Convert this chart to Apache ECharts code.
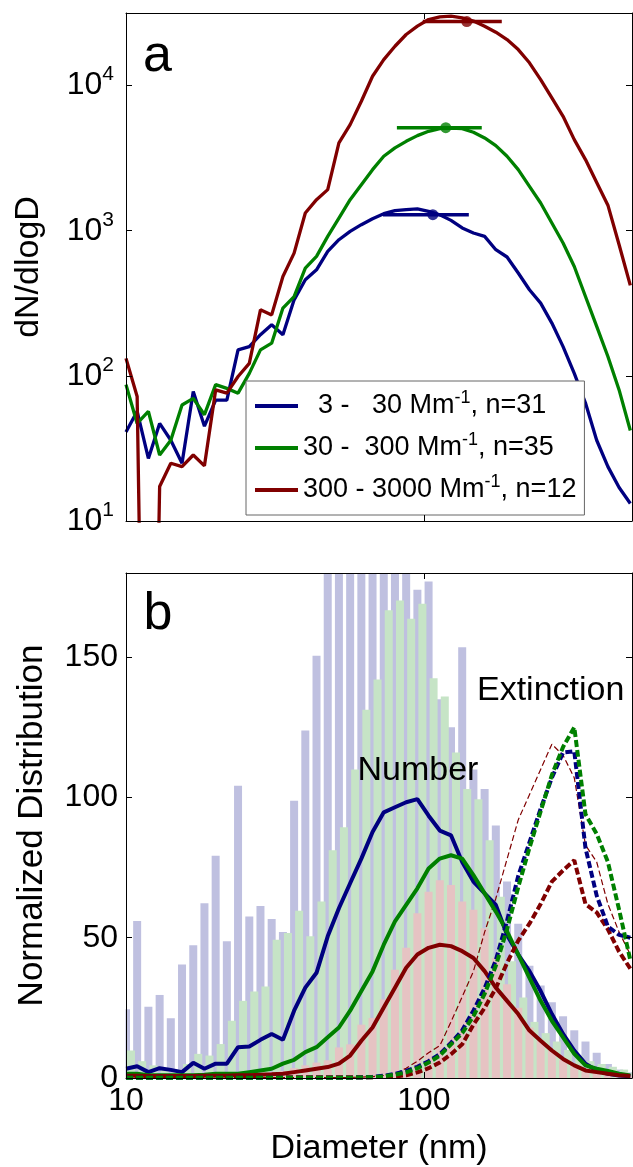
<!DOCTYPE html>
<html><head><meta charset="utf-8">
<script src="https://cdn.jsdelivr.net/npm/echarts@6/dist/echarts.min.js"></script>
<style>html,body{margin:0;padding:0;background:#fff}#c{width:633px;height:1167px}</style>
</head><body><div id="c"></div>
<script>
// Diameter bins (nm)
const diameters = [10.0,10.9,11.89,12.97,14.14,15.42,16.82,18.34,20.0,21.81,23.78,25.94,28.28,30.84,33.64,36.68,40.0,43.62,47.57,51.87,56.57,61.69,67.27,73.36,80.0,87.24,95.14,103.75,113.14,123.38,134.54,146.72,160.0,174.48,190.27,207.49,226.27,246.75,269.09,293.44,320.0,348.96,380.55,414.99,452.55,493.5];

// Panel a: dN/dlogD
const blueA = [41,57,27,47,36,25,78,45,68,68,151,159,192,225,192,334,459,538,720,867,989,1100,1210,1310,1374,1396,1412,1360,1288,1178,1045,965,914,740,659,511,392,317,231,159,104,65,36,23.7,17,13.2];
const greenA = [87,47,57,28.5,36,63,70,54,87,82,76,104,151,168,293,352,553,666,914,1223,1636,2076,2634,3258,3719,4130,4521,4840,5050,5100,5050,4766,4358,3855,3258,2634,2022,1552,1130,822,567,352,219,136,80,42];
const redA = [132,72,0.001,17.3,25,23.7,28.5,24,80,76,99,122,285,263,484,701,1325,1636,1919,4024,5379,7800,11590,15100,18660,22480,25650,28510,29770,30100,29300,27800,25650,23330,20750,17700,14350,11000,8226,6140,4244,3090,2150,1500,800,420];
// mean diameter markers with horizontal bars
const markX = [107.2,118.5,139.4];
const markY = [1290,5130,27620];
const markLo = [72.9,81.2,99.2];
const markHi = [141.6,156.5,182.7];
// legend
const legLow = ['  3','30','300'];
const legHigh = ['  30',' 300','3000'];
const legN = [31,35,12];

// Panel b: normalized distributions
const blueBars = [24.5,56,25.4,29.6,21.3,40.5,47.3,62.3,79.2,48.7,104.2,57.6,61.3,56.7,52,98.8,123.9,150.5,200,210,230,240,250,240,230,200,174,177,135,125,153.5,110,103,90,70,55,40,33,27,22,17,13,9,5,3,2];
const greenBars = [9.8,6,4.5,3,3,5,8.6,8,12.1,20.4,27.5,30.8,32.6,49.3,51.7,59.6,50.5,62.9,81.2,89.4,110,131.3,142,166.7,170.2,163.7,169,142.5,136,116,103,99.4,84.7,64.6,41.6,28.7,20,16,13,10,8,6,5,4,3,2];
const redBars = [1,0.5,0.5,0.5,0.5,0.5,0.8,0.8,1,1,1,1.5,1.5,2,2.5,3.5,4.5,5.5,6.3,10.9,12,19,21.4,28,38.6,46.4,58.7,66.4,70.5,68.8,62.9,60,53.4,42.8,33.4,25,18,13.3,9.8,6.3,4.5,3.3,2.1,1.5,1,0.8];
const blueNum = [3.3,4.2,2.1,3.5,2.9,2.1,5.4,3.3,5.1,5.1,11,11.2,13.6,15.7,13.6,24,32.2,37.5,50.5,60.5,69.4,78.2,87.7,94.7,96.5,98.3,99.4,93.5,88.2,86.5,77,70,65.8,61.7,51,44,38.1,31,22.8,15.7,9.8,5.1,2.7,1.5,0.9,0.6];
const greenNum = [1.5,1.5,1,1,1,1,1,1.2,1.5,1.5,1.5,2.1,2.7,3.3,5.1,6.5,9.2,11,14.5,18,24,31,38,47.5,55.8,61.7,67.6,74.7,78.2,79.4,78.2,72.3,65.8,59.3,52.3,44,35.7,27.5,20.4,14.5,8.6,4.5,3.3,2.5,1.5,0.9];
const redNum = [0.8,0.8,0.7,0.7,0.7,0.7,0.7,0.8,0.8,0.8,1,1,1.2,1.3,1.5,2.1,2.7,3.3,3.9,5.1,8,13.3,18,25.1,32.2,39.3,44,46.4,47.5,47,45.2,42.8,38.1,32.2,27.5,22.8,16.9,13.3,9.8,6.8,4.5,2.7,2.1,1.5,1,0.7];
const blueExt = [0.1,0.1,0.1,0.1,0.1,0.1,0.1,0.1,0.1,0.1,0.1,0.1,0.1,0.1,0.1,0.1,0.1,0.1,0.1,0.1,0.1,0.2,0.4,0.8,1.5,2.5,4,6,8.5,12.5,17,24,32,42,56,72,84,96,107,116,116.5,82,65,54,51,50];
const greenExt = [0.1,0.1,0.1,0.1,0.1,0.1,0.1,0.1,0.1,0.1,0.1,0.1,0.1,0.1,0.1,0.1,0.1,0.1,0.1,0.1,0.1,0.2,0.3,0.6,1.2,2,3.5,5.5,8,12,16,22,30,40,53,68,82,95,108,118,125,94,87,77,60,42];
const redExt = [0.3,0.3,0.3,0.3,0.3,0.3,0.3,0.3,0.3,0.3,0.3,0.3,0.3,0.3,0.3,0.3,0.3,0.3,0.3,0.3,0.3,0.3,0.3,0.4,0.5,1,2,3.5,5.5,8.5,12,19,25,32,41,49,55,62,70,74,77.6,62,59,53,45,39];
const redExtThin = [0.1,0.1,0.1,0.1,0.1,0.1,0.1,0.1,0.1,0.1,0.1,0.1,0.1,0.1,0.1,0.1,0.1,0.1,0.1,0.1,0.2,0.3,0.5,0.9,1.5,3.5,6,9,11.5,20,29,38,52,64,78,92,101,110,119,115,107,83,77,62,52,44];
// axis tick values
const xTicks = [10,100];
const yTicksB = [0,50,100,150];

const FONT = '"Liberation Sans", Arial, sans-serif';
const C_BLUE = '#000080', C_GREEN = '#008000', C_RED = '#800000';
const B_BLUE = '#bfc0e0', B_GREEN = '#c6e4c6', B_RED = '#e6c3c3';

function pts(v) { return diameters.map((d, i) => [d, v[i]]); }
const legNames = legLow.map((l, i) => l + ' - ' + legHigh[i] + ' Mm^-1, n=' + legN[i]);

const chart = echarts.init(document.getElementById('c'), null, {renderer: 'canvas'});

const tick = {show: true, inside: true, length: 6, lineStyle: {color: '#000', width: 1}};
const aline = {show: true, onZero: false, lineStyle: {color: '#000', width: 1}};
function xAx(grid, pos, labels, hidden) {
  const a = {gridIndex: grid, type: 'log', logBase: 10, min: 10, max: 500, interval: 1, position: pos, z: 10,
    axisLine: aline, axisTick: tick, splitLine: {show: false}, minorTick: {show: false},
    axisLabel: {show: false}};
  if (hidden) { a.axisLine = {show: false}; a.axisTick = {show: false}; }
  if (labels) {
    a.axisLabel = {show: true, fontSize: 32, color: '#000', fontFamily: FONT, margin: 7, showMaxLabel: false,
      formatter: v => (xTicks.indexOf(Math.round(v)) >= 0 ? String(Math.round(v)) : '')};
    a.name = 'Diameter (nm)'; a.nameLocation = 'middle'; a.nameGap = 54;
    a.nameTextStyle = {fontSize: 34, color: '#000', fontFamily: FONT};
  }
  return a;
}
const yA = {gridIndex: 0, type: 'log', logBase: 10, min: 10, max: 31622.8, interval: 1, position: 'left', z: 10,
  axisLine: aline, axisTick: tick, splitLine: {show: false}, minorTick: {show: false},
  axisLabel: {show: true, margin: 12, showMaxLabel: false, color: '#000', fontFamily: FONT,
    formatter: v => '{b|10}{s|' + Math.round(Math.log10(v)) + '}',
    rich: {b: {fontSize: 32, fontFamily: FONT, color: '#000'}, s: {fontSize: 21, fontFamily: FONT, color: '#000', padding: [0, 0, 22, 0]}}},
  name: 'dN/dlogD', nameLocation: 'middle', nameGap: 80, nameRotate: 90,
  nameTextStyle: {fontSize: 34, color: '#000', fontFamily: FONT}};
const yAr = {gridIndex: 0, type: 'log', logBase: 10, min: 10, max: 31622.8, interval: 1, position: 'right', z: 10,
  axisLine: aline, axisTick: tick, splitLine: {show: false}, minorTick: {show: false}, axisLabel: {show: false}};
const yB = {gridIndex: 1, type: 'value', min: 0, max: 180, interval: 50, position: 'left', z: 10,
  axisLine: aline, axisTick: tick, splitLine: {show: false},
  axisLabel: {show: true, margin: 8, showMaxLabel: false, fontSize: 32, color: '#000', fontFamily: FONT,
    formatter: v => (yTicksB.indexOf(v) >= 0 ? String(v) : '')},
  name: 'Normalized Distribution', nameLocation: 'middle', nameGap: 76, nameRotate: 90,
  nameTextStyle: {fontSize: 35, color: '#000', fontFamily: FONT}};
const yBr = {gridIndex: 1, type: 'value', min: 0, max: 180, interval: 50, position: 'right', z: 10,
  axisLine: aline, axisTick: tick, splitLine: {show: false}, axisLabel: {show: false}};

function lineA(name, vals, color) {
  return {name: name, type: 'line', xAxisIndex: 0, yAxisIndex: 0, data: pts(vals), symbol: 'none', showSymbol: false,
    lineStyle: {color: color, width: 3.3}, itemStyle: {color: color}, clip: true, z: 3, silent: true};
}
function markBar(i, color) {
  return {name: 'm' + i, type: 'line', xAxisIndex: 0, yAxisIndex: 0, data: [[markLo[i], markY[i]], [markHi[i], markY[i]]],
    symbol: 'none', lineStyle: {color: color, width: 3.5}, itemStyle: {color: color}, z: 4, silent: true};
}
function markDot(i, color) {
  return {name: 'd' + i, type: 'scatter', xAxisIndex: 0, yAxisIndex: 0, data: [[markX[i], markY[i]]],
    symbolSize: 11, itemStyle: {color: color}, z: 5, silent: true};
}
function barB(name, vals, color, xIdx, gap, opacity) {
  return {name: name, type: 'bar', xAxisIndex: xIdx, yAxisIndex: 2, data: pts(vals), barWidth: 8, barGap: gap,
    itemStyle: {color: color, opacity: opacity == null ? 1 : opacity}, z: 2, silent: true};
}
function lineB(name, vals, color, width, dash) {
  return {name: name, type: 'line', xAxisIndex: 2, yAxisIndex: 2, data: pts(vals), symbol: 'none', showSymbol: false,
    lineStyle: {color: color, width: width, type: dash || 'solid'}, itemStyle: {color: color}, clip: true, z: 3, silent: true};
}

const option = {
  animation: false,
  backgroundColor: '#fff',
  grid: [
    {left: 126, top: 13, width: 506, height: 508},
    {left: 126, top: 573, width: 506, height: 508}
  ],
  xAxis: [xAx(0, 'bottom', false), xAx(0, 'top', false), xAx(1, 'bottom', true), xAx(1, 'top', false), xAx(1, 'bottom', false, true)],
  yAxis: [yA, yAr, yB, yBr],
  legend: {
    data: legNames, left: 246, top: 381, orient: 'vertical', selectedMode: false,
    backgroundColor: '#fff', borderColor: '#666', borderWidth: 1, borderRadius: 0,
    padding: [6, 8, 6, 9], itemGap: 4, itemWidth: 43, itemHeight: 4, icon: 'rect',
    textStyle: {fontSize: 27, fontFamily: FONT, color: '#000', lineHeight: 38,
      rich: {t: {fontSize: 27, fontFamily: FONT, color: '#000'}, s: {fontSize: 18, fontFamily: FONT, color: '#000', padding: [0, 0, 16, 0]}}},
    formatter: function (name) {
      const i = legNames.indexOf(name);
      return '{t|' + legLow[i] + ' - ' + legHigh[i] + ' Mm}{s|-1}{t|, n=' + legN[i] + '}';
    }
  },
  graphic: [
    {type: 'rect', shape: {x: 96, y: 573, width: 29.5, height: 508}, style: {fill: '#fff'}, z: 6, silent: true},
    {type: 'text', x: 143, y: 57, style: {text: 'a', font: '52px ' + FONT, fill: '#000', verticalAlign: 'middle'}, z: 10},
    {type: 'text', x: 143.5, y: 615, style: {text: 'b', font: '52px ' + FONT, fill: '#000', verticalAlign: 'middle'}, z: 10},
    {type: 'text', x: 357.5, y: 771, style: {text: 'Number', font: '34px ' + FONT, fill: '#000', verticalAlign: 'middle'}, z: 10},
    {type: 'text', x: 477, y: 691, style: {text: 'Extinction', font: '34px ' + FONT, fill: '#000', verticalAlign: 'middle'}, z: 10}
  ],
  series: [
    lineA(legNames[0], blueA, C_BLUE),
    lineA(legNames[1], greenA, C_GREEN),
    lineA(legNames[2], redA, C_RED),
    markBar(0, C_BLUE), markBar(1, C_GREEN), markBar(2, C_RED),
    markDot(0, C_BLUE), markDot(1, C_GREEN), markDot(2, C_RED),
    barB('bb', blueBars, B_BLUE, 2, '-100%'),
    barB('pad', greenBars, B_GREEN, 4, '25%', 0),
    barB('gb', greenBars, B_GREEN, 4, '25%'),
    barB('rb', redBars, B_RED, 2, '-100%'),
    lineB('rxt', redExtThin, C_RED, 1.2, [6, 3]),
    lineB('bn', blueNum, C_BLUE, 4),
    lineB('gn', greenNum, C_GREEN, 4),
    lineB('rn', redNum, C_RED, 4),
    lineB('rx', redExt, C_RED, 4, [7, 3]),
    lineB('bx', blueExt, C_BLUE, 4, [7, 3]),
    lineB('gx', greenExt, C_GREEN, 4, [7, 3])
  ]
};
chart.setOption(option);
</script>
</body></html>
